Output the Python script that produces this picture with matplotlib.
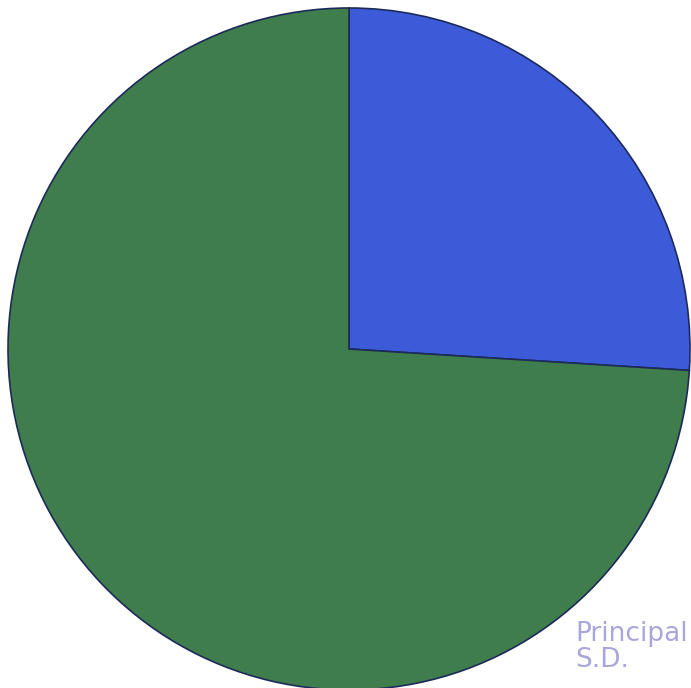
import matplotlib.pyplot as plt

# two slices of the pie
labels = ["Blue", "Green"]
shares = [26, 74]
slice_colors = ["#3d5bd9", "#3f7d4c"]

fig = plt.figure(figsize=(6.91, 6.88), dpi=100)
ax = fig.add_axes([0, 0, 1, 1])

ax.pie(shares, colors=slice_colors, startangle=90, counterclock=False,
       radius=1.0, wedgeprops=dict(edgecolor="#1c2a5a", linewidth=1.2))

# place the circle like in the photo (center ~ (349, 349) px, radius ~341 px)
r_px = 341.0
ax.set_xlim(-349 / r_px, (691 - 349) / r_px)
ax.set_ylim(-(688 - 349) / r_px, 349 / r_px)
ax.set_aspect("auto")
ax.axis("off")

# faded stamp in the corner
ax.text(0.832, 0.06, "Principal\nS.D.", transform=ax.transAxes,
        color="#a9a6dc", fontsize=19, ha="left", va="center",
        linespacing=1.0, clip_on=True)

fig.savefig("out.png", dpi=100)
